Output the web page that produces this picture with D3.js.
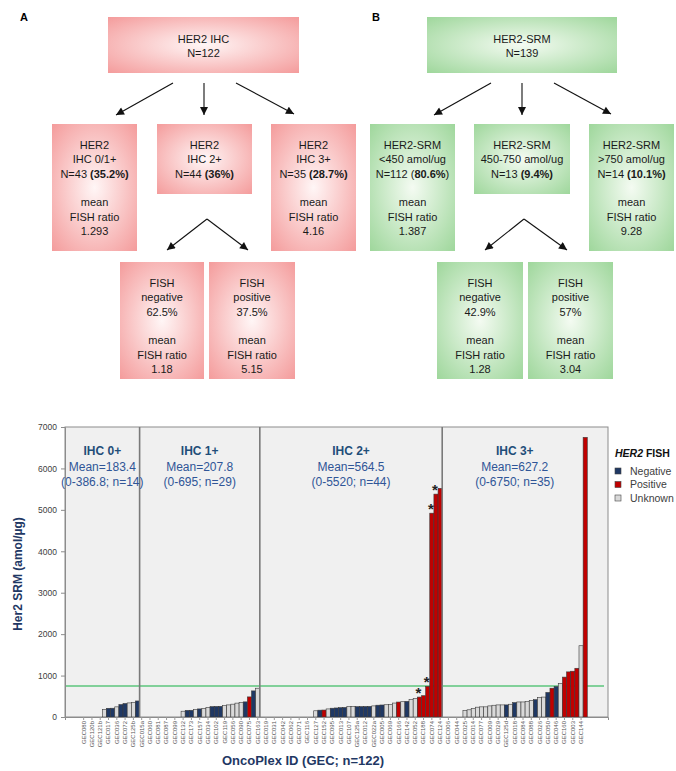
<!DOCTYPE html>
<html>
<head>
<meta charset="utf-8">
<script src="https://cdn.jsdelivr.net/npm/d3@7"></script>
<style>
  body { margin: 0; background: #fff; }
  svg { font-family: "Liberation Sans", Arial, sans-serif; }
</style>
</head>
<body>
<svg></svg>
<script>
const width = 676;
const height = 771;

// ---- flowchart text (A: IHC, B: SRM) ----
const ihcTop = ["HER2 IHC", "N=122"];
const ihcMid = [
  ["HER2", "IHC 0/1+", "N=43 **(35.2%)**", "", "mean", "FISH ratio", "1.293"],
  ["HER2", "IHC 2+", "N=44 **(36%)**"],
  ["HER2", "IHC 3+", "N=35 **(28.7%)**", "", "mean", "FISH ratio", "4.16"]
];
const ihcLow = [
  ["FISH", "negative", "62.5%", "", "mean", "FISH ratio", "1.18"],
  ["FISH", "positive", "37.5%", "", "mean", "FISH ratio", "5.15"]
];
const srmTop = ["HER2-SRM", "N=139"];
const srmMid = [
  ["HER2-SRM", "<450 amol/ug", "N=112 (**80.6%**)", "", "mean", "FISH ratio", "1.387"],
  ["HER2-SRM", "450-750 amol/ug", "N=13 **(9.4%)**"],
  ["HER2-SRM", ">750 amol/ug", "N=14 **(10.1%)**", "", "mean", "FISH ratio", "9.28"]
];
const srmLow = [
  ["FISH", "negative", "42.9%", "", "mean", "FISH ratio", "1.28"],
  ["FISH", "positive", "57%", "", "mean", "FISH ratio", "3.04"]
];

// ---- bar chart data ----
const groups = ["IHC 0+", "IHC 1+", "IHC 2+", "IHC 3+"];
const groupMeans = ["Mean=183.4", "Mean=207.8", "Mean=564.5", "Mean=627.2"];
const groupRanges = ["(0-386.8; n=14)", "(0-695; n=29)", "(0-5520; n=44)", "(0-6750; n=35)"];

// N = negative, P = positive, U = unknown
const ihc0Values = [0, 0, 0, 0, 0, 185, 210, 212, 245, 300, 325, 340, 355, 387];
const ihc0Fish   = ["U","U","U","U","U","U","N","N","U","N","N","U","U","N"];

const ihc1Values = [0, 0, 0, 0, 0, 0, 0, 0, 0, 0,
  140, 160, 162, 185, 195, 205, 232, 250, 255, 258, 275, 292, 310, 335, 350, 365, 485, 630, 695];
const ihc1Fish = ["U","U","U","U","U","U","U","U","U","U",
  "U","N","N","U","N","U","U","N","N","N","U","U","U","U","U","N","P","N","U"];

const ihc2Values = [0, 0, 0, 0, 0, 0, 0, 0, 0, 0, 0, 0, 0,
  150, 165, 168, 195, 212, 218, 225, 230, 250, 252, 250, 252, 254, 256, 268, 285, 290, 296,
  300, 337, 361, 369, 377, 420, 450, 481, 514, 740, 4920, 5380, 5520];
const ihc2Fish = ["U","U","U","U","U","U","U","U","U","U","U","U","U",
  "U","N","P","U","N","N","N","N","U","U","N","N","N","N","U","N","N","U",
  "U","U","P","U","N","U","U","P","P","P","P","P","P"];
const ihc2Starred = [38, 40, 41, 42];

const ihc3Values = [0, 0, 0, 0, 0,
  158, 174, 205, 237, 245, 245, 268, 284, 292, 292, 292, 308, 347, 363, 363, 371, 403, 418,
  474, 481, 592, 695, 734, 813, 963, 1089, 1105, 1176, 1720, 6750];
const ihc3Fish = ["U","U","U","U","U",
  "U","U","U","U","U","U","U","U","U","U","N","U","N","U","U","U","U","N",
  "U","U","N","P","N","U","P","P","P","P","U","P"];

// every other bar carries a label
const tickIds = [
  "GEC080","GEC120b","GEC121b","GEC017","GEC036","GEC072","GEC125b",
  "GEC015a","GEC060","GEC081","GEC087","GEC099","GEC132","GEC173","GEC157","GEC034","GEC102",
  "GEC119","GEC056","GEC090","GEC075","GEC163",
  "GEC019","GEC031","GEC042","GEC062","GEC071","GEC116","GEC127","GEC152","GEC095","GEC013",
  "GEC107","GEC125a","GEC012","GEC022a","GEC005","GEC069","GEC166","GEC142","GEC052","GEC188",
  "GEC074","GEC124",
  "GEC006","GEC044","GEC025","GEC014","GEC077","GEC009","GEC029","GEC125d","GEC018","GEC084",
  "GEC088","GEC026","GEC050","GEC046","GEC160","GEC003","GEC144"
];
const yTicks = [0, 1000, 2000, 3000, 4000, 5000, 6000, 7000];
const cutoff = 750;
const fishKeys = ["N", "P", "U"];
const fishNames = ["Negative", "Positive", "Unknown"];

const svg = d3.select("svg")
  .attr("width", width)
  .attr("height", height);

// ================= flowcharts =================
const defs = svg.append("defs");

function addGradient(id, inner, outer) {
  const g = defs.append("radialGradient")
    .attr("id", id)
    .attr("cx", "50%").attr("cy", "50%").attr("r", "70%");
  g.append("stop").attr("offset", "0%").attr("stop-color", inner);
  g.append("stop").attr("offset", "100%").attr("stop-color", outer);
}
addGradient("redBox", "#fff6f6", "#f49c9c");
addGradient("greenBox", "#f4fbf2", "#9fd79c");

defs.append("marker")
  .attr("id", "arrowHead")
  .attr("viewBox", "0 0 10 10")
  .attr("refX", 10).attr("refY", 5)
  .attr("markerUnits", "userSpaceOnUse")
  .attr("markerWidth", 10).attr("markerHeight", 8)
  .attr("orient", "auto")
  .append("path")
  .attr("d", "M0,0L10,5L0,10z")
  .attr("fill", "#111");

function drawBox(x, y, w, h, lines, fill) {
  const g = svg.append("g");
  g.append("rect")
    .attr("x", x).attr("y", y)
    .attr("width", w).attr("height", h)
    .attr("fill", "url(#" + fill + ")");
  const first = y + (lines.length === 2 ? 26 : 25);
  lines.forEach(function(line, i) {
    if (!line) return;
    const t = g.append("text")
      .attr("x", x + w / 2)
      .attr("y", first + i * 14.3)
      .attr("text-anchor", "middle")
      .attr("font-size", 11)
      .attr("fill", "#1a1a1a");
    // split **bold** parts
    line.split("**").forEach(function(part, k) {
      if (!part) return;
      t.append("tspan").text(part).attr("font-weight", k % 2 ? "bold" : "normal");
    });
  });
}

function drawArrow(x1, y1, x2, y2) {
  svg.append("line")
    .attr("x1", x1).attr("y1", y1)
    .attr("x2", x2).attr("y2", y2)
    .attr("stroke", "#111")
    .attr("stroke-width", 1.1)
    .attr("marker-end", "url(#arrowHead)");
}

svg.append("text").attr("x", 20).attr("y", 21)
  .attr("font-size", 11).attr("font-weight", "bold").text("A");
svg.append("text").attr("x", 372).attr("y", 21)
  .attr("font-size", 11).attr("font-weight", "bold").text("B");

// panel A
drawBox(108, 17, 191, 56, ihcTop, "redBox");
drawBox(52, 124, 85, 127, ihcMid[0], "redBox");
drawBox(157, 124, 95, 70, ihcMid[1], "redBox");
drawBox(271, 124, 85, 127, ihcMid[2], "redBox");
drawBox(120, 262, 84, 117, ihcLow[0], "redBox");
drawBox(209, 262, 86, 117, ihcLow[1], "redBox");
drawArrow(173, 83, 116, 115);
drawArrow(204, 83, 204, 115);
drawArrow(236, 83, 294, 114);
drawArrow(207, 219, 167, 250);
drawArrow(207, 219, 248, 250);

// panel B
drawBox(427, 17, 190, 56, srmTop, "greenBox");
drawBox(370, 124, 85, 127, srmMid[0], "greenBox");
drawBox(474, 124, 96, 70, srmMid[1], "greenBox");
drawBox(589, 124, 85, 127, srmMid[2], "greenBox");
drawBox(437, 262, 86, 117, srmLow[0], "greenBox");
drawBox(528, 262, 85, 117, srmLow[1], "greenBox");
drawArrow(491, 83, 434, 115);
drawArrow(522, 83, 522, 115);
drawArrow(554, 83, 611, 114);
drawArrow(524, 219, 485, 250);
drawArrow(524, 219, 567, 250);

// ================= bar chart =================
const plot = { left: 65, right: 608, top: 427, bottom: 717 };
const padBefore = 4;
const padAfter = 5;

const groupValues = [ihc0Values, ihc1Values, ihc2Values, ihc3Values];
const groupFish = [ihc0Fish, ihc1Fish, ihc2Fish, ihc3Fish];

const bars = [];
const bounds = [];
groupValues.forEach(function(vals, gi) {
  const start = bars.length;
  vals.forEach(function(v, j) {
    bars.push({
      index: bars.length,
      value: v,
      fish: groupFish[gi][j],
      star: gi === 2 && ihc2Starred.indexOf(j) >= 0
    });
  });
  bounds.push([start, bars.length - 1]);
});

const x = d3.scaleBand()
  .domain(d3.range(-padBefore, bars.length + padAfter))
  .range([plot.left, plot.right])
  .padding(0);

const y = d3.scaleLinear()
  .domain([0, 7000])
  .range([plot.bottom, plot.top]);

const color = d3.scaleOrdinal()
  .domain(fishKeys)
  .range(["#1f3864", "#c00000", "#d9d9d9"]);

const chart = svg.append("g");

chart.append("rect")
  .attr("x", plot.left).attr("y", plot.top)
  .attr("width", plot.right - plot.left)
  .attr("height", plot.bottom - plot.top)
  .attr("fill", "#f0f0f0")
  .attr("stroke", "#8c8c8c")
  .attr("stroke-width", 1);

// cutoff line
chart.append("line")
  .attr("x1", plot.left).attr("x2", plot.right - 4)
  .attr("y1", y(cutoff)).attr("y2", y(cutoff))
  .attr("stroke", "#5cc67d")
  .attr("stroke-width", 1.5);

chart.selectAll("rect.bar")
  .data(bars.filter(d => d.value > 0))
  .join("rect")
  .attr("class", "bar")
  .attr("x", d => x(d.index))
  .attr("y", d => y(d.value))
  .attr("width", x.bandwidth())
  .attr("height", d => y(0) - y(d.value))
  .attr("fill", d => color(d.fish))
  .attr("stroke", "#3a3a3a")
  .attr("stroke-width", 0.6);

chart.selectAll("text.star")
  .data(bars.filter(d => d.star))
  .join("text")
  .attr("class", "star")
  .attr("x", d => x(d.index) + x.bandwidth() / 2 - 1)
  .attr("y", d => y(d.value) + 1)
  .attr("text-anchor", "middle")
  .attr("font-size", 15)
  .attr("font-weight", "bold")
  .attr("fill", "#222")
  .text("*");

// group dividers
const dividers = bounds.slice(1).map(b => b[0]);
chart.selectAll("line.div")
  .data(dividers)
  .join("line")
  .attr("class", "div")
  .attr("x1", d => x(d)).attr("x2", d => x(d))
  .attr("y1", plot.top).attr("y2", plot.bottom)
  .attr("stroke", "#7a7a7a")
  .attr("stroke-width", 1.6);

// group titles
const groupCenters = bounds.map(function(b, i) {
  const a = i === 0 ? plot.left : x(b[0]);
  const e = x(b[1]) + x.bandwidth();
  return (a + e) / 2;
});
groups.forEach(function(name, i) {
  const cx = groupCenters[i];
  chart.append("text").attr("x", cx).attr("y", 455)
    .attr("text-anchor", "middle").attr("font-size", 12).attr("font-weight", "bold")
    .attr("fill", "#1f4e79").text(name);
  chart.append("text").attr("x", cx).attr("y", 471)
    .attr("text-anchor", "middle").attr("font-size", 12)
    .attr("fill", "#2f5597").text(groupMeans[i]);
  chart.append("text").attr("x", cx).attr("y", 486)
    .attr("text-anchor", "middle").attr("font-size", 12)
    .attr("fill", "#2f5597").text(groupRanges[i]);
});

// y axis
const yAxis = chart.append("g")
  .attr("transform", `translate(${plot.left},0)`)
  .call(d3.axisLeft(y).tickValues(yTicks).tickFormat(d3.format("d")).tickSize(4).tickPadding(4));
yAxis.select(".domain").attr("stroke", "#8c8c8c");
yAxis.selectAll(".tick line").attr("stroke", "#8c8c8c");
yAxis.selectAll(".tick text")
  .attr("font-family", "Liberation Sans, Arial, sans-serif")
  .attr("font-size", 8.5)
  .attr("fill", "#404040");

// x axis
const labelled = d3.range(0, bars.length, 2);
const xAxis = chart.append("g")
  .attr("transform", `translate(0,${plot.bottom})`)
  .call(d3.axisBottom(x)
    .tickValues(labelled)
    .tickFormat((d, i) => tickIds[i])
    .tickSize(3)
    .tickPadding(2));
xAxis.select(".domain").attr("stroke", "#8c8c8c");
xAxis.selectAll(".tick line").attr("stroke", "#9a9a9a");
xAxis.selectAll(".tick text")
  .attr("font-family", "Liberation Sans, Arial, sans-serif")
  .attr("font-size", 6)
  .attr("fill", "#555")
  .attr("text-anchor", "end")
  .attr("dy", "0.32em")
  .attr("transform", "translate(0,4) rotate(-90)")
  .attr("x", 0)
  .attr("y", 0);

// axis titles
svg.append("text")
  .attr("transform", `translate(22,${(plot.top + plot.bottom) / 2 + 2}) rotate(-90)`)
  .attr("text-anchor", "middle")
  .attr("font-size", 12)
  .attr("font-weight", "bold")
  .attr("fill", "#1f3864")
  .text("Her2 SRM (amol/µg)");

svg.append("text")
  .attr("x", 303).attr("y", 765)
  .attr("text-anchor", "middle")
  .attr("font-size", 13)
  .attr("font-weight", "bold")
  .attr("fill", "#1f3864")
  .text("OncoPlex ID (GEC; n=122)");

// legend
const legend = svg.append("g").attr("transform", "translate(615,457)");
const lt = legend.append("text").attr("x", 0).attr("y", 0)
  .attr("font-size", 10.5).attr("font-weight", "bold").attr("fill", "#111");
lt.append("tspan").attr("font-style", "italic").text("HER2");
lt.append("tspan").text(" FISH");

const items = legend.selectAll("g.item")
  .data(fishKeys)
  .join("g")
  .attr("class", "item")
  .attr("transform", (d, i) => `translate(0,${11 + i * 13.5})`);
items.append("rect")
  .attr("width", 6).attr("height", 6)
  .attr("fill", d => color(d))
  .attr("stroke", "#444").attr("stroke-width", 0.6);
items.append("text")
  .attr("x", 15).attr("y", 6.5)
  .attr("font-size", 10.5)
  .attr("fill", "#404040")
  .text((d, i) => fishNames[i]);
</script>
</body>
</html>
